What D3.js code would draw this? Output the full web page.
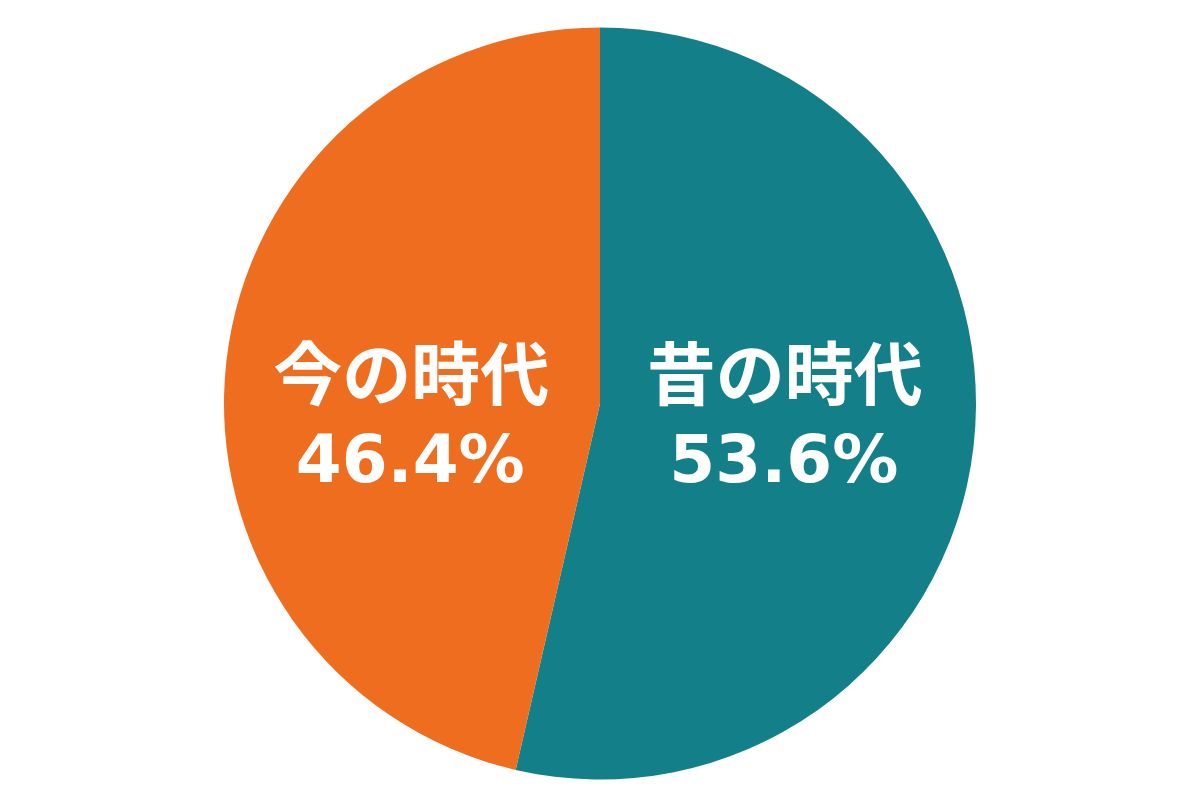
<!DOCTYPE html>
<html>
<head>
<meta charset="utf-8">
<script src="https://cdn.jsdelivr.net/npm/d3@7"></script>
<style>
  body { margin: 0; background: #fff; }
</style>
</head>
<body>
<svg id="chart" width="1200" height="800"></svg>
<script>
// data
const labels = ['昔の時代', '今の時代'];
const shares = [53.6, 46.4];
const colors = ['#137f89', '#ef6d1e'];

const svg = d3.select('#chart');
const cx = 600, cy = 403.5;
const radius = 376;

const pieData = labels.map((l, i) => ({ label: l, value: shares[i], color: colors[i] }));

const pie = d3.pie().sort(null).value(d => d.value);
const arc = d3.arc().innerRadius(0).outerRadius(radius);
const labelArc = d3.arc().innerRadius(radius * 0.5).outerRadius(radius * 0.5);

const g = svg.append('g').attr('transform', `translate(${cx},${cy})`);

const arcs = g.selectAll('.arc')
  .data(pie(pieData))
  .enter()
  .append('g')
  .attr('class', 'arc');

arcs.append('path')
  .attr('d', arc)
  .attr('fill', d => d.data.color);

// labels sit at the same height on both sides
const txt = arcs.append('text')
  .attr('text-anchor', 'middle')
  .attr('fill', '#fff')
  .style('font-family', '"DejaVu Sans", "Noto Sans CJK JP", sans-serif')
  .style('font-weight', 'bold');

txt.append('tspan')
  .attr('x', d => labelArc.centroid(d)[0] - 2)
  .attr('y', -4)
  .style('font-size', '69px')
  .text(d => d.data.label);

txt.append('tspan')
  .attr('x', d => labelArc.centroid(d)[0] - 3)
  .attr('y', 78)
  .style('font-size', '66px')
  .text(d => d3.format('.1f')(d.data.value) + '%');
</script>
</body>
</html>
